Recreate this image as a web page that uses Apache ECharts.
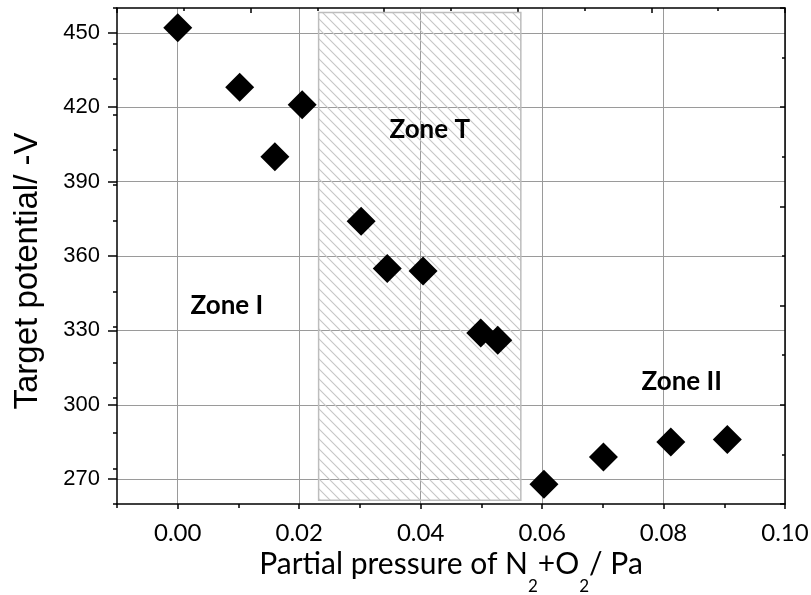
<!DOCTYPE html>
<html>
<head>
<meta charset="utf-8">
<script src="https://cdn.jsdelivr.net/npm/echarts@6/dist/echarts.min.js"></script>
<style>html,body{margin:0;padding:0;background:#fff}#c{width:811px;height:595px}</style>
</head>
<body>
<div id="c"></div>
<script>
// ---- data ----
var pressure = [0.000, 0.0102, 0.0205, 0.0160, 0.0302, 0.0345, 0.0404, 0.0499, 0.0527, 0.0603, 0.0701, 0.0812, 0.0905];
var potential = [452, 428, 421, 400, 374, 355, 354, 329, 326, 268, 279, 285, 286];
var xTicks = [0.00, 0.02, 0.04, 0.06, 0.08, 0.10];
var yTicks = [270, 300, 330, 360, 390, 420, 450];
var zoneNames = ['Zone I', 'Zone T', 'Zone II'];
var zoneX = [0.0081, 0.0415, 0.083];
var zoneY = [340, 411, 309.5];
var zoneTx = [0.0232, 0.0565];
var zoneTy = [261.5, 458.2];

function hatchPattern() {
  var s = 10, c = document.createElement('canvas');
  c.width = s; c.height = s;
  var g = c.getContext('2d');
  g.strokeStyle = '#c6c6c6'; g.lineWidth = 1.1;
  g.beginPath();
  g.moveTo(-1, -1); g.lineTo(s + 1, s + 1);
  g.moveTo(-1, s - 1); g.lineTo(1, s + 1);
  g.moveTo(s - 1, -1); g.lineTo(s + 1, 1);
  g.stroke();
  return c;
}

var chart = echarts.init(document.getElementById('c'), null, {renderer: 'canvas'});
var plain = {show: false};
var option = {
  animation: false,
  backgroundColor: '#fff',
  grid: {left: 117, right: 26, top: 8, bottom: 91, containLabel: false, outerBoundsMode: 'none'},
  xAxis: [
    { // main bottom
      type: 'value', min: -0.01, max: 0.10, position: 'bottom',
      name: 'Partial pressure of N{s|2}+O{s|2}/ Pa', nameLocation: 'middle', nameGap: 29, nameMoveOverlap: false,
      nameTextStyle: {fontFamily: 'Lato', fontSize: 30, color: '#000', lineHeight: 62,
        rich: {s: {fontFamily: 'Lato', fontSize: 17, color: '#000', lineHeight: 14, verticalAlign: 'bottom'}}},
      axisLine: {show: true, onZero: false, lineStyle: {color: '#000', width: 1.5}},
      axisTick: {show: true, inside: false, length: 5, customValues: xTicks, lineStyle: {color: '#000', width: 1.5}},
      axisLabel: {show: true, customValues: xTicks, margin: 17, fontFamily: 'Lato', fontSize: 24, color: '#000',
        formatter: function (v) { return v.toFixed(2); }},
      splitLine: {show: true, lineStyle: {color: '#9a9a9a', width: 1}}
    },
    { // minor bottom ticks
      type: 'value', min: -0.01, max: 0.10, interval: 0.01, position: 'bottom',
      axisLine: {show: false, onZero: false}, axisLabel: plain, splitLine: plain,
      axisTick: {show: true, inside: false, length: 4, lineStyle: {color: '#000', width: 1.5}}
    },
    { // top, long ticks
      type: 'value', min: 0, max: 10, interval: 2, position: 'top',
      axisLine: {show: true, onZero: false, lineStyle: {color: '#000', width: 1.5}},
      axisLabel: plain, splitLine: plain,
      axisTick: {show: true, inside: true, length: 5, lineStyle: {color: '#000', width: 1.5}}
    },
    { // top, short ticks
      type: 'value', min: 0, max: 10, interval: 1, position: 'top',
      axisLine: {show: false, onZero: false}, axisLabel: plain, splitLine: plain,
      axisTick: {show: true, inside: true, length: 3, lineStyle: {color: '#000', width: 1.5}}
    }
  ],
  yAxis: [
    {
      type: 'value', min: 260, max: 460, position: 'left',
      name: 'Target potential/ -V', nameLocation: 'middle', nameGap: 73, nameMoveOverlap: false,
      nameTextStyle: {fontFamily: 'Liberation Sans', fontSize: 33, color: '#000', padding: [0, 30, 0, 0]},
      axisLine: {show: true, onZero: false, lineStyle: {color: '#000', width: 1.5}},
      axisTick: {show: true, inside: false, length: 9, customValues: yTicks, lineStyle: {color: '#000', width: 1.5}},
      axisLabel: {show: true, customValues: yTicks, margin: 17, fontFamily: 'Liberation Sans', fontSize: 22, color: '#000'},
      splitLine: {show: true, lineStyle: {color: '#9a9a9a', width: 1}}
    },
    {
      type: 'value', min: 255, max: 465, interval: 15, position: 'left',
      axisLine: {show: false, onZero: false}, axisLabel: plain, splitLine: plain,
      axisTick: {show: true, inside: false, length: 4, lineStyle: {color: '#000', width: 1.5}}
    },
    {
      type: 'value', min: 0, max: 10, interval: 2, position: 'right',
      axisLine: {show: true, onZero: false, lineStyle: {color: '#000', width: 1.5}},
      axisLabel: plain, splitLine: plain,
      axisTick: {show: true, inside: true, length: 5, lineStyle: {color: '#000', width: 1.5}}
    },
    {
      type: 'value', min: 0, max: 10, interval: 1, position: 'right',
      axisLine: {show: false, onZero: false}, axisLabel: plain, splitLine: plain,
      axisTick: {show: true, inside: true, length: 3, lineStyle: {color: '#000', width: 1.5}}
    }
  ],
  series: [
    {
      type: 'scatter', xAxisIndex: 0, yAxisIndex: 0, z: 2,
      symbol: 'diamond', symbolSize: 29,
      itemStyle: {color: '#000', opacity: 1},
      data: pressure.map(function (x, i) { return [x, potential[i]]; })
    },
    {
      type: 'line', xAxisIndex: 0, yAxisIndex: 0, z: 3, data: [], silent: true,
      markArea: {
        silent: true,
        itemStyle: {color: {image: hatchPattern(), repeat: 'repeat'}, borderColor: '#bdbdbd', borderWidth: 1.5, opacity: 1},
        data: [[{coord: [zoneTx[0], zoneTy[0]]}, {coord: [zoneTx[1], zoneTy[1]]}]]
      }
    },
    {
      type: 'scatter', xAxisIndex: 0, yAxisIndex: 0, z: 4, symbolSize: 0, silent: true,
      itemStyle: {opacity: 1},
      label: {show: true, position: 'inside', formatter: function (p) { return zoneNames[p.dataIndex]; },
        fontFamily: 'Lato', fontWeight: 'bold', fontSize: 26, color: '#000', opacity: 1},
      data: zoneX.map(function (x, i) { return [x, zoneY[i]]; })
    }
  ]
};
chart.setOption(option);
</script>
</body>
</html>
